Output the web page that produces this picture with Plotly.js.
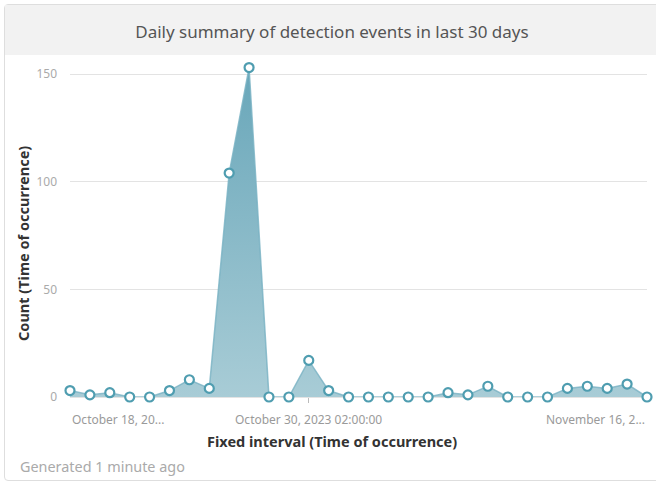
<!DOCTYPE html>
<html>
<head>
<meta charset="utf-8">
<script src="https://cdn.plot.ly/plotly-3.0.1.min.js"></script>
<style>
  html, body { margin: 0; padding: 0; background: #ffffff; overflow: hidden; }
  #card { position: absolute; left: 4px; top: 4px; width: 670px; height: 475px;
          border: 1px solid #dedede; border-radius: 4px; background: #fff; }
  #bar { position: absolute; left: 5px; top: 5px; width: 660px; height: 50px; background: #f2f2f2; }
  #chart { position: absolute; left: 0; top: 0; width: 656px; height: 483px; }
</style>
</head>
<body>
<div id="card"></div>
<div id="bar"></div>
<div id="chart"></div>
<script>
const dates = [
  "2023-10-18","2023-10-19","2023-10-20","2023-10-21","2023-10-22","2023-10-23",
  "2023-10-24","2023-10-25","2023-10-26","2023-10-27","2023-10-28","2023-10-29",
  "2023-10-30","2023-10-31","2023-11-01","2023-11-02","2023-11-03","2023-11-04",
  "2023-11-05","2023-11-06","2023-11-07","2023-11-08","2023-11-09","2023-11-10",
  "2023-11-11","2023-11-12","2023-11-13","2023-11-14","2023-11-15","2023-11-16"
];
const counts = [3, 1, 2, 0, 0, 3, 8, 4, 104, 153, 0, 0, 17, 3, 0, 0, 0, 0, 0, 2, 1, 5, 0, 0, 0, 4, 5, 4, 6, 0];
const yTicks = [0, 50, 100, 150];
const xTickDates = ["2023-10-18", "2023-10-30", "2023-11-16"];
const xTickLabels = ["October 18, 20...", "October 30, 2023 02:00:00", "November 16, 2..."];
const xTickAnchors = ["left", "center", "right"];
const FONT = "Noto Sans, Open Sans, sans-serif";

const trace = {
  x: dates,
  y: counts,
  type: "scatter",
  mode: "lines+markers",
  fill: "tozeroy",
  cliponaxis: false,
  fillgradient: {
    type: "vertical",
    start: 0,
    stop: 155,
    colorscale: [[0, "rgba(168,204,214,1)"], [1, "rgba(104,166,185,1)"]]
  },
  line: { color: "rgba(120,178,195,0.8)", width: 1.5 },
  marker: { symbol: "circle", size: 9, color: "#ffffff", line: { color: "#4f9db0", width: 2.2 } },
  hoverinfo: "x+y"
};

const annotations = xTickDates.map((d, i) => ({
  x: d, xref: "x", y: -0.068, yref: "paper",
  text: xTickLabels[i], showarrow: false,
  xanchor: xTickAnchors[i], yanchor: "middle",
  font: { size: 12, color: "#9a9a9a", family: FONT }
}));
annotations.push({
  x: -0.09, xref: "paper", y: -0.2077, yref: "paper",
  text: "Generated 1 minute ago", showarrow: false,
  xanchor: "left", yanchor: "middle",
  font: { size: 14.4, color: "#aaaaaa", family: FONT }
});
// axis titles
annotations.push({
  x: 0.454, xref: "paper", y: -0.1306, yref: "paper",
  text: "<b>Fixed interval (Time of occurrence)</b>", showarrow: false,
  xanchor: "center", yanchor: "middle",
  font: { size: 14.5, color: "#333333", family: FONT }
});
annotations.push({
  x: -0.0815, xref: "paper", y: 0.457, yref: "paper",
  text: "<b>Count (Time of occurrence)</b>", showarrow: false, textangle: -90,
  xanchor: "center", yanchor: "middle",
  font: { size: 14.5, color: "#333333", family: FONT }
});

const layout = {
  width: 656, height: 483,
  margin: { l: 70, r: 9, t: 60, b: 86 },
  paper_bgcolor: "rgba(0,0,0,0)",
  plot_bgcolor: "rgba(0,0,0,0)",
  showlegend: false,
  font: { family: FONT, color: "#555" },
  title: {
    text: "Daily summary of detection events in last 30 days",
    x: 0.506, xanchor: "center", y: 0.934, yanchor: "middle",
    font: { size: 17, color: "#555555", family: FONT }
  },
  xaxis: {
    type: "date",
    range: [dates[0], dates[dates.length - 1]],
    showgrid: false, zeroline: false,
    showline: false,
    tickvals: [xTickDates[1]],
    ticks: "outside", ticklen: 5, tickcolor: "#bbbbbb", tickwidth: 1,
    showticklabels: false
  },
  yaxis: {
    range: [0, 156.5],
    tickvals: yTicks,
    showgrid: true, gridcolor: "#e3e3e3", gridwidth: 1,
    zeroline: true, zerolinecolor: "#e3e3e3", zerolinewidth: 1,
    showline: false,
    ticks: "", ticklabelstandoff: 12,
    tickfont: { size: 12, color: "#aaaaaa" }
  },
  annotations: annotations
};

Plotly.newPlot("chart", [trace], layout, { displayModeBar: false, staticPlot: true });
</script>
</body>
</html>
